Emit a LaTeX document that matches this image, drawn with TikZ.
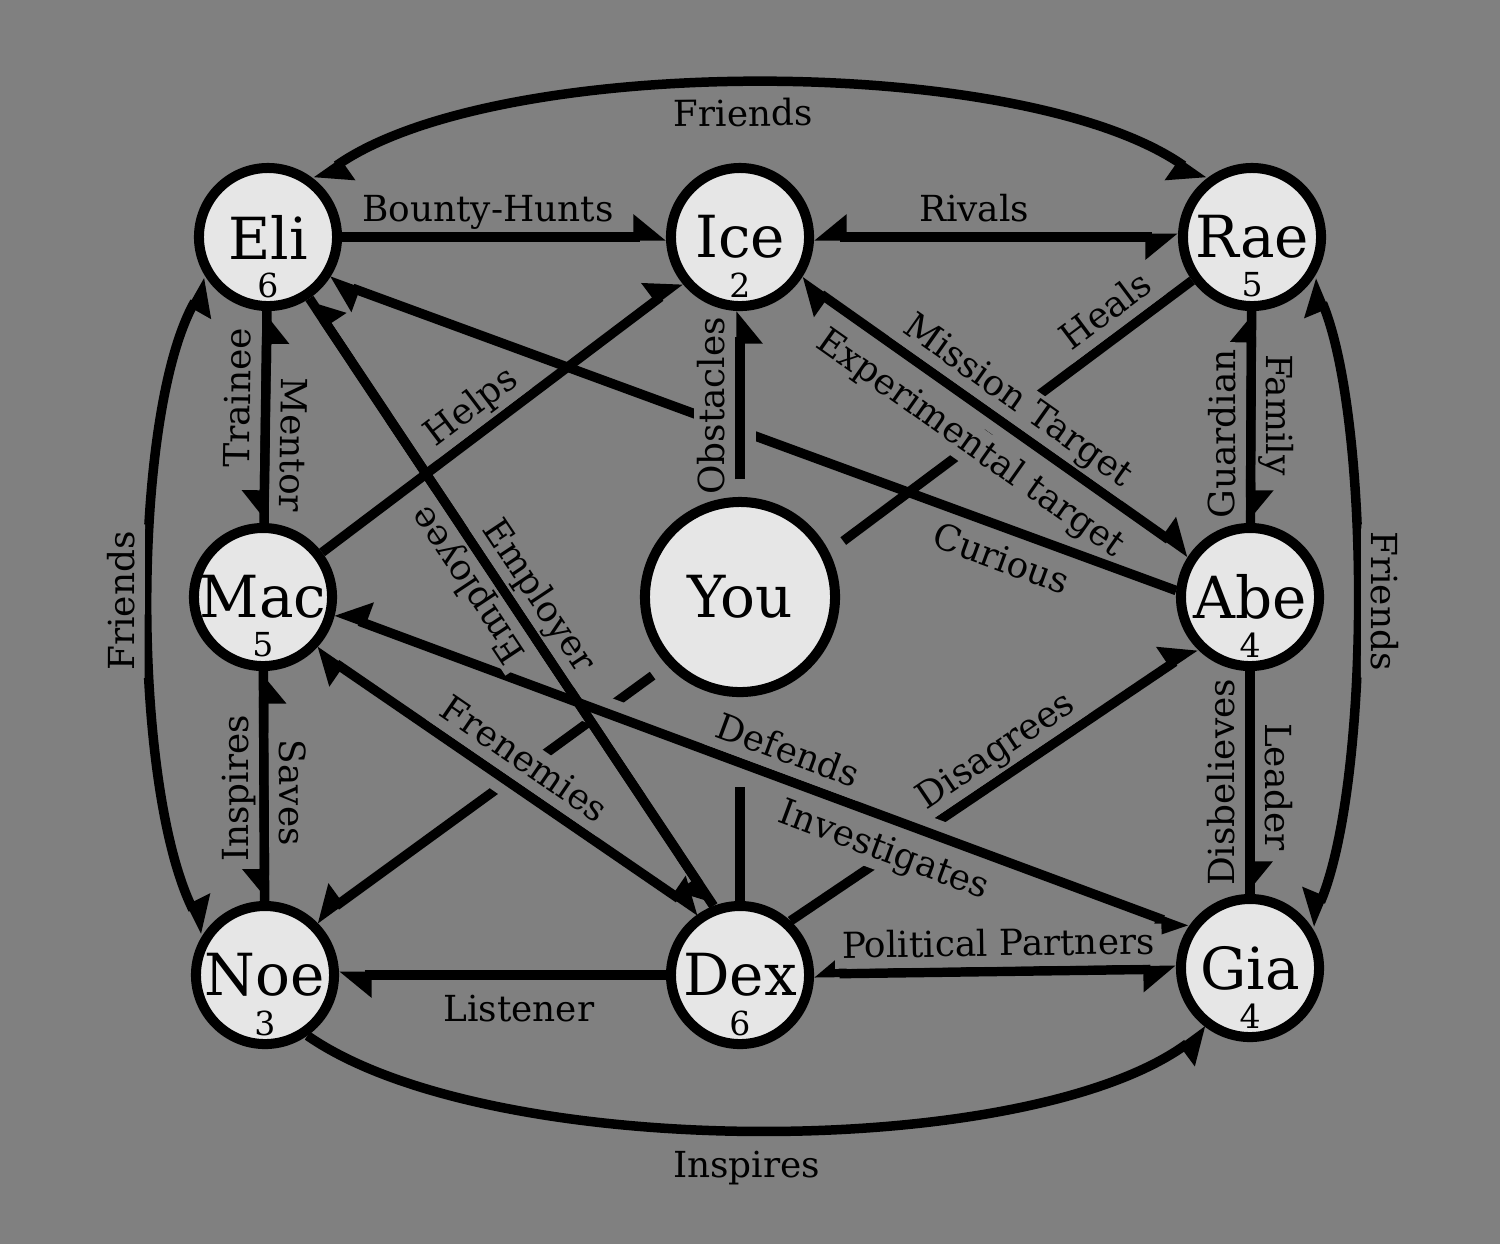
\documentclass[tikz,border=0pt]{standalone}
\usepackage{fontspec}
\setmainfont{DejaVu Serif}
\usepackage{xcolor}
\usepackage{tikz}
\usetikzlibrary{arrows.meta, backgrounds}
\definecolor{bg}{HTML}{808080}
\definecolor{disc}{HTML}{E6E6E6}
\newcommand{\namefont}{\fontsize{16.5}{18}\selectfont}
\newcommand{\relfont}{\fontsize{10.2}{12}\selectfont}
\newcommand{\cntfont}{\fontsize{9.4}{11}\selectfont}
\tikzset{person/.style={circle, draw, fill=disc, line width=2.85pt, minimum size=1.38cm, inner sep=0pt, font=\namefont}}
\tikzset{count/.style={font=\cntfont, yshift=-0.48cm}}
\tikzset{rel/.style={line width=2.7pt}}
\tikzset{lbl/.style={font=\relfont, fill=bg, inner xsep=2pt, inner ysep=0.4pt, outer sep=1.4pt, text height=8.2pt, text depth=2.6pt, sloped, allow upside down}}
\tikzset{cut/.style={preaction={draw=bg, line width=9pt, -}}}
\tikzset{fromyou/.style={shorten <=5pt}}
\tikzset{hl/.tip={Triangle[harpoon, length=8pt, width=12.5pt]}}
\tikzset{hr/.tip={Triangle[harpoon, swap, length=8pt, width=12.5pt]}}

\begin{document}
\begin{tikzpicture}[x=0.01cm, y=0.01cm]
  \useasboundingbox (0,0) rectangle (1500,-1244);

  \node[person] (Eli) at (268,-237) [label={[count]center:6}] {Eli};
  \node[person] (Ice) at (740,-237) [label={[count]center:2}] {Ice};
  \node[person] (Rae) at (1252,-237) [label={[count]center:5}] {Rae};
  \node[person] (Mac) at (263,-597) [label={[count]center:5}] {Mac};
  \node[person, minimum size=1.9cm] (You) at (740,-597) {You};
  \node[person] (Abe) at (1250,-597) [label={[count]center:4}] {Abe};
  \node[person] (Noe) at (265,-975) [label={[count]center:3}] {Noe};
  \node[person] (Dex) at (740,-975) [label={[count]center:6}] {Dex};
  \node[person] (Gia) at (1250,-968) [label={[count]center:4}] {Gia};

  \begin{scope}[on background layer]
    \fill[bg] (0,0) rectangle (1500,-1244);

    % lines that get broken by the ones on top
    \draw[rel, fromyou] (You.27) -- node[lbl, above, pos=.807] {Heals} (Rae.216);
    \draw[rel, fromyou, -hr] (You.223) -- (Noe.47);
    \draw[rel, shorten <=0.9cm] (You) -- (Dex);
    \draw[rel, -hl] (Dex.47) -- node[lbl, above, pos=.543] {Disagrees} (Abe.223);

    \draw[rel, cut, hl-hl] (Ice) -- node[lbl, above, pos=.52] {Mission Target}
      node[lbl, below=3.2pt, pos=.49] {Experimental target} (Abe);
    \draw[rel, cut, hr-hr] (Mac.-12) -- node[lbl, above, pos=.52] {Defends}
      node[lbl, below=2.2pt, pos=.657] {Investigates} (Gia.148);
    \draw[rel, cut, hl-hl] (Mac.-45) -- node[lbl, above, pos=.503] {Frenemies} (Dex.123);
    \draw[rel, hl-] (Eli.-35) -- node[lbl, below=2.2pt, pos=.806] {Curious} (Abe.175);
    \draw[rel, cut, fromyou, -hr] (You) -- node[lbl, above, pos=.49] {Obstacles} (Ice);

    \draw[rel, -hl] (Eli) -- node[lbl, above, pos=.45] {Bounty-Hunts} (Ice);
    \draw[rel, hr-hr] (Ice) -- node[lbl, above, pos=.44] {Rivals} (Rae);
    \draw[rel, hr-] (Mac) -- node[lbl, above, pos=.59] {Trainee} (Eli);
    \draw[rel, hr-] (Eli) -- node[lbl, above, pos=.63] {Mentor} (Mac);
    \draw[rel, hr-] (Noe) -- node[lbl, above, pos=.49] {Inspires} (Mac);
    \draw[rel, hr-] (Mac) -- node[lbl, above, pos=.53] {Saves} (Noe);
    \draw[rel, -hl] (Mac) -- node[lbl, above, pos=.46] {Helps} (Ice);
    \draw[rel, hr-] (Dex.111) -- node[lbl, above, pos=.553] {Employee} (Eli.-56);
    \draw[rel, hr-] (Eli.-56) -- node[lbl, above, pos=.514] {Employer} (Dex.111);
    \draw[rel, -hl] (Abe) -- node[lbl, above, pos=.42] {Guardian} (Rae);
    \draw[rel, -hl] (Rae) -- node[lbl, above, pos=.49] {Family} (Abe);
    \draw[rel, -hl] (Gia) -- node[lbl, above, pos=.5] {Disbelieves} (Abe);
    \draw[rel, -hl] (Abe) -- node[lbl, above, pos=.52] {Leader} (Gia);
    \draw[rel, hl-] (Noe) -- node[lbl, below=3.2pt, pos=.55] {Listener} (Dex);
    \draw[rel, hr-hr] (Dex) -- node[lbl, above, pos=.51] {Political Partners} (Gia);

    % the four outer arcs
    \draw[rel, hl-hr] (Eli.50) .. controls (497,-53) and (1023,-53) .. node[lbl, below=1.7pt, pos=.484] {Friends} (Rae.130);
    \draw[rel, hl-hr] (Noe.145) .. controls (131,-785) and (131,-414) .. node[lbl, above] {Friends} (Eli.215);
    \draw[rel, hl-hr] (Rae.-35) .. controls (1371,-420) and (1371,-781) .. node[lbl, above] {Friends} (Gia.35);
    \draw[rel, -hr] (Noe.-55) .. controls (489,-1162) and (1026,-1162) .. node[lbl, below=3.7pt, pos=.49] {Inspires} (Gia.-125);
  \end{scope}
\end{tikzpicture}
\end{document}
